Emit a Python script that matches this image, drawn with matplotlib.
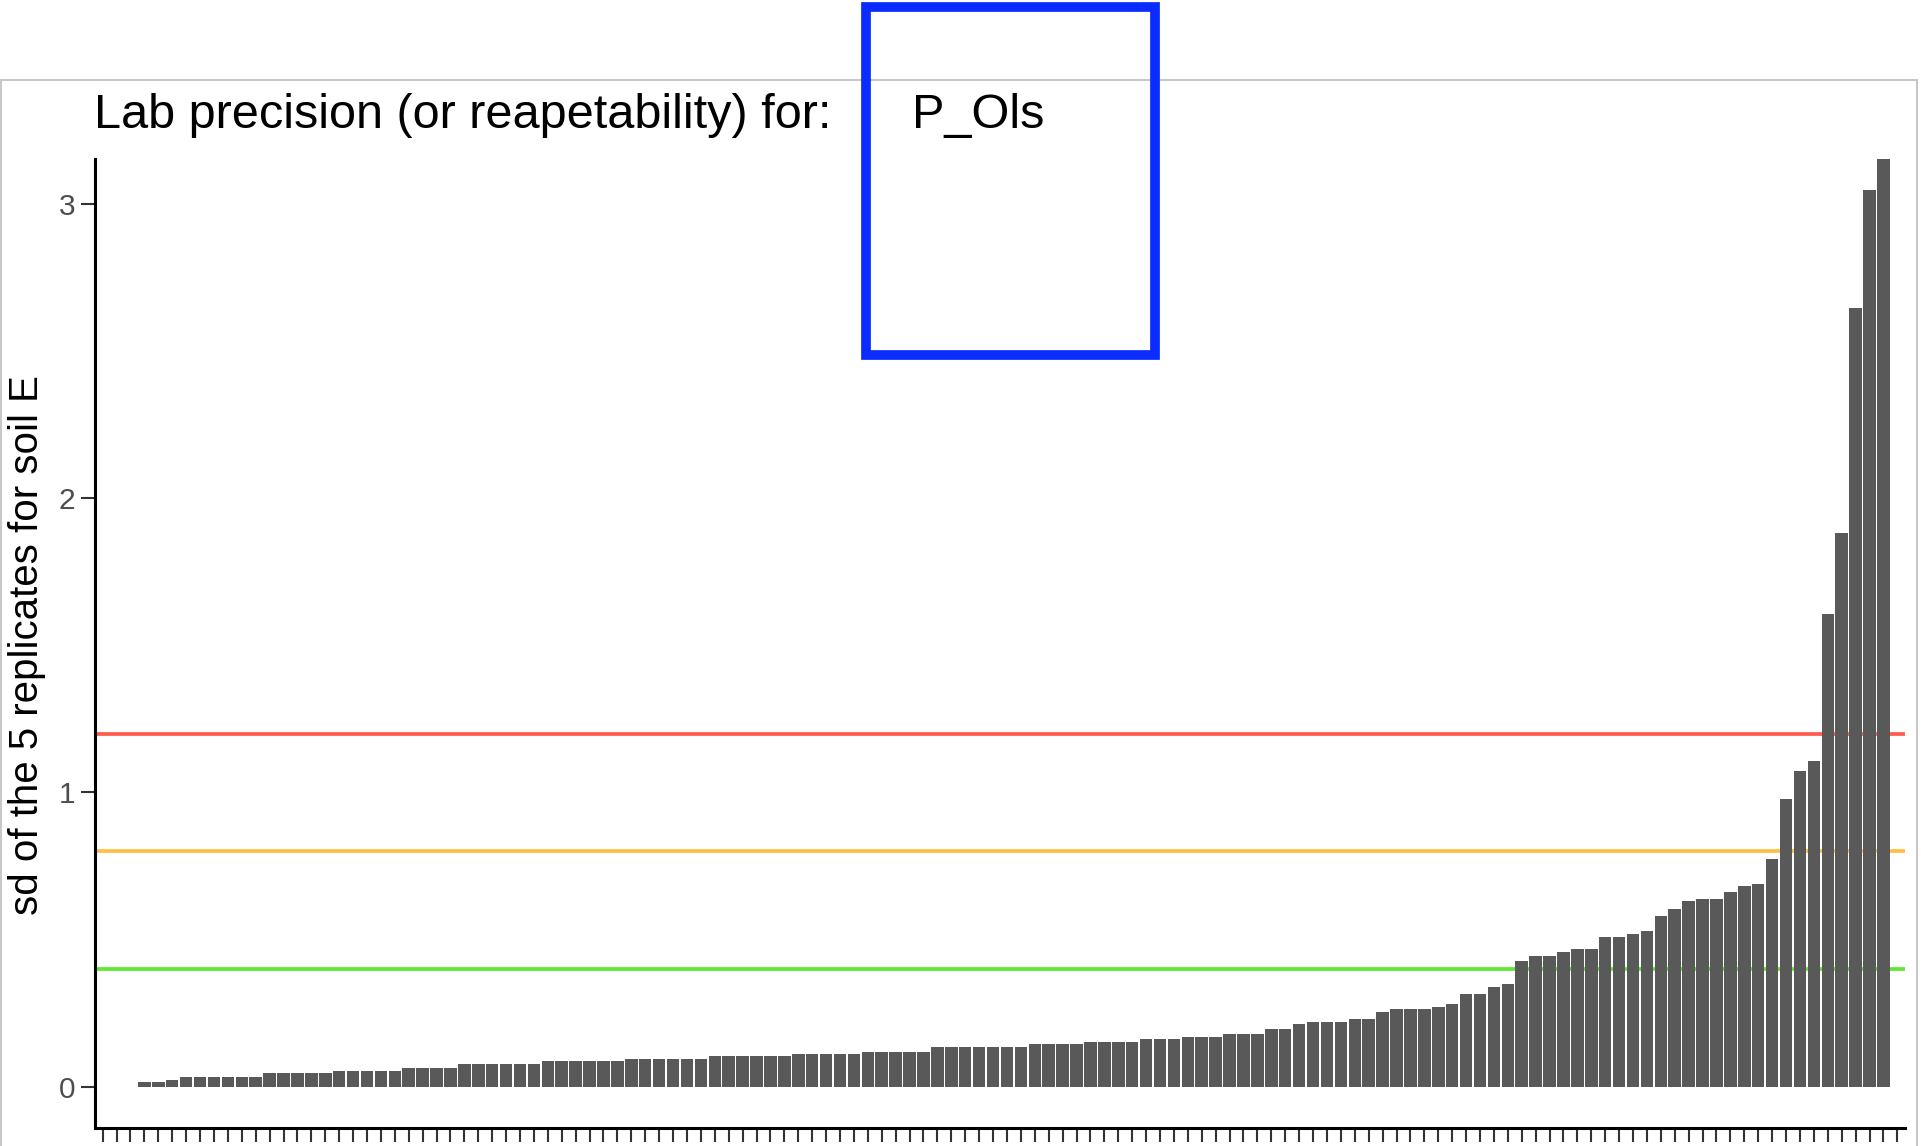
import numpy as np
import matplotlib
matplotlib.use("Agg")
import matplotlib.pyplot as plt
from matplotlib.patches import Rectangle

W, H = 1921, 1146
DPI = 100

plt.rcParams["font.family"] = ["Liberation Sans", "DejaVu Sans"]

title_text = "Lab precision (or reapetability) for:"
variable_name = "P_Ols"
y_label = "sd of the 5 replicates for soil E"

# standard deviation of the replicates per lab, sorted ascending
# (first three labs show no spread, the last lab has no value)
lab_sd = [
    0.0, 0.0, 0.0, 0.016, 0.016, 0.022, 0.032, 0.032, 0.032, 0.032,
    0.032, 0.032, 0.047, 0.047, 0.047, 0.047, 0.047, 0.053, 0.053, 0.053,
    0.053, 0.053, 0.062, 0.062, 0.062, 0.062, 0.077, 0.077, 0.077, 0.077,
    0.077, 0.077, 0.086, 0.086, 0.086, 0.086, 0.086, 0.086, 0.094, 0.094,
    0.094, 0.094, 0.094, 0.094, 0.103, 0.103, 0.103, 0.103, 0.103, 0.103,
    0.112, 0.112, 0.112, 0.112, 0.112, 0.118, 0.118, 0.118, 0.118, 0.118,
    0.135, 0.135, 0.135, 0.135, 0.135, 0.135, 0.135, 0.145, 0.145, 0.145,
    0.145, 0.152, 0.152, 0.152, 0.152, 0.160, 0.160, 0.160, 0.170, 0.170,
    0.170, 0.178, 0.178, 0.178, 0.195, 0.195, 0.212, 0.220, 0.220, 0.220,
    0.229, 0.229, 0.254, 0.264, 0.264, 0.264, 0.271, 0.280, 0.314, 0.314,
    0.339, 0.348, 0.427, 0.442, 0.442, 0.457, 0.466, 0.466, 0.509, 0.509,
    0.519, 0.527, 0.578, 0.604, 0.629, 0.638, 0.638, 0.662, 0.680, 0.688,
    0.775, 0.978, 1.073, 1.108, 1.605, 1.882, 2.645, 3.047, 3.160, np.nan,
]

thresholds = [0.4, 0.8, 1.2]
threshold_colors = ["#5fe82e", "#ffbe45", "#ff5c4d"]
y_ticks = [0, 1, 2, 3]

fig = plt.figure(figsize=(W / DPI, H / DPI), dpi=DPI)
fig.patch.set_facecolor("white")

# light frame around the plot area
frame = Rectangle((1 / W, -0.01), (1917 - 1) / W, (1 - 80 / H) + 0.01,
                  transform=fig.transFigure, fill=False,
                  edgecolor="#c8c8c8", lw=1.5, zorder=0)
fig.patches.append(frame)

ax = fig.add_axes([95 / W, 1 - 1128 / H, (1905 - 95) / W, (1128 - 159) / H])
ax.patch.set_alpha(0)

x = np.arange(len(lab_sd))
for yv, col in zip(thresholds, threshold_colors):
    ax.axhline(yv, color=col, lw=2.7, zorder=1)
ax.bar(x, lab_sd, width=0.9, color="#595959", zorder=2)

ax.set_xlim(-0.55, len(lab_sd) - 1 + 0.55)
ax.set_ylim(-0.141, 3.153)

for side in ("top", "right"):
    ax.spines[side].set_visible(False)
for side in ("left", "bottom"):
    ax.spines[side].set_color("black")
    ax.spines[side].set_linewidth(2.2)

ax.set_xticks(x)
ax.set_xticklabels([])
ax.set_yticks(y_ticks)
ax.set_yticklabels([str(t) for t in y_ticks])
ax.tick_params(axis="both", length=10, width=1.5, color="#333333", direction="out")
ax.tick_params(axis="y", labelsize=21.5, labelcolor="#4d4d4d", pad=4.2)

fig.text(94.5 / W, 1 - 128 / H, title_text, fontsize=35, ha="left", va="baseline")
fig.text(912.5 / W, 1 - 128 / H, variable_name, fontsize=35, ha="left", va="baseline")
fig.text(27 / W, 1 - 645 / H, y_label, fontsize=29, rotation=90,
         ha="center", va="center")

# highlight box around the variable name
box = Rectangle((866 / W, 1 - 355 / H), (1155 - 866) / W, (355 - 7) / H,
                transform=fig.transFigure, fill=False,
                edgecolor="#0a2cff", lw=7, zorder=10)
fig.patches.append(box)

fig.savefig("out.png", dpi=DPI, facecolor="white")
